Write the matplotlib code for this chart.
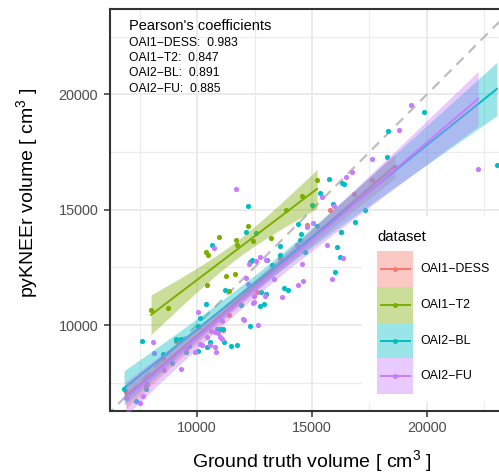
import numpy as np
import matplotlib
matplotlib.use("Agg")
import matplotlib.pyplot as plt
from matplotlib.patches import Rectangle
from matplotlib.lines import Line2D

plt.rcParams['font.family'] = ['Liberation Sans', 'DejaVu Sans']
plt.rcParams['mathtext.default'] = 'regular'

# ---------------------------------------------------------------- data
datasets = ["OAI1\u2212DESS", "OAI1\u2212T2", "OAI2\u2212BL", "OAI2\u2212FU"]
colors = ["#F8766D", "#7CAE00", "#00BFC4", "#C77CFF"]
pearson = [0.983, 0.847, 0.891, 0.885]

dess_x = [6910, 7780, 8520, 9090, 10040, 11130, 11390, 12610, 13000, 13610,
          14780, 15780, 16260, 16830, 17610, 18610]
dess_y = [7100, 7360, 8570, 9310, 9910, 9780, 10430, 11430, 11340, 12900,
          14340, 14990, 14030, 15680, 16290, 16850]

t2_x = [15220, 14570, 13870, 13220, 12430, 12220, 11700, 11740, 10960, 10390,
        10480, 11260, 11650, 10430, 11390, 8000, 8740]
t2_y = [16280, 15580, 14980, 13770, 13640, 14290, 13680, 13460, 13810, 13160,
        13030, 12120, 12210, 11730, 11470, 10650, 10740]

bl_x = [6830, 7350, 7780, 7610, 8520, 8910, 9090, 9300, 9520, 9650,
        10040, 10130, 10040, 10390, 10430, 10570, 10870, 11000, 11130, 11170,
        11480, 11740, 11220, 10650, 12220, 12130, 12570, 13610, 13610, 13260,
        12300, 12390, 13040, 11910, 12300, 12740, 12910, 12780, 13000, 13780,
        13960, 14700, 16220, 16000, 16090, 14390, 18300, 18260, 15740, 16300,
        16390, 15350, 15910, 17300, 16870, 16260, 15220, 14520, 19870, 23040,
        14480, 15000]
bl_y = [7230, 6710, 7230, 9310, 8740, 8350, 9390, 9390, 8830, 9090,
        8870, 10300, 9960, 10910, 9050, 9260, 9830, 9830, 9830, 9260,
        9090, 9130, 11520, 13470, 15160, 14030, 13990, 13430, 13040, 12600,
        12730, 12820, 12820, 10870, 9960, 10820, 10910, 11430, 11340, 11600,
        11520, 13170, 12950, 12300, 13380, 14380, 18410, 17280, 16330, 16160,
        16110, 15720, 15250, 14990, 14470, 14030, 14290, 13950, 19230, 16940,
        13690, 15200]

fu_x = [8090, 8130, 8570, 9300, 10040, 9910, 10130, 10430, 10610, 10780,
        10910, 11000, 11090, 10570, 10220, 9520, 10830, 10780, 7830, 7650,
        7520, 11090, 10740, 11700, 12040, 12650, 12480, 12480, 12960, 12130,
        12220, 12260, 12570, 13350, 13700, 14390, 14610, 14570, 14350, 15650,
        15870, 17610, 16480, 16740, 19300, 18780, 15960, 15040, 14780, 22220,
        16350, 15430, 12740, 13000, 12000, 12430, 6910]
fu_y = [9260, 8790, 8050, 8090, 10560, 8830, 9180, 9480, 9740, 9700,
        9650, 9480, 9390, 9130, 9130, 9000, 8830, 9050, 7440, 6920,
        6620, 10170, 13340, 15900, 10220, 10000, 11000, 11260, 11260, 12040,
        11780, 12640, 12770, 11990, 11210, 11730, 11910, 12640, 13470, 13470,
        11990, 17200, 16420, 16630, 19540, 18450, 15160, 14420, 14250, 16760,
        12900, 15550, 12950, 12820, 10260, 10950, 6840]

series = [(dess_x, dess_y), (t2_x, t2_y), (bl_x, bl_y), (fu_x, fu_y)]

x_ticks = [10000, 15000, 20000]
y_ticks = [10000, 15000, 20000]
minor_ticks = [7500, 12500, 17500, 22500]


def t975(df):
    """Upper 97.5% quantile of Student's t (Cornish-Fisher expansion)."""
    z = 1.959964
    g1 = (z**3 + z) / 4
    g2 = (5 * z**5 + 16 * z**3 + 3 * z) / 96
    g3 = (3 * z**7 + 19 * z**5 + 17 * z**3 - 15 * z) / 384
    return z + g1 / df + g2 / df**2 + g3 / df**3


def lm_band(x, y, n_grid=100):
    x = np.asarray(x, float)
    y = np.asarray(y, float)
    n = len(x)
    b, a = np.polyfit(x, y, 1)
    resid = y - (a + b * x)
    s = np.sqrt(np.sum(resid**2) / (n - 2))
    xbar = x.mean()
    sxx = np.sum((x - xbar) ** 2)
    xs = np.linspace(x.min(), x.max(), n_grid)
    yhat = a + b * xs
    se = s * np.sqrt(1 / n + (xs - xbar) ** 2 / sxx)
    t = t975(n - 2)
    return xs, yhat, yhat - t * se, yhat + t * se


# ---------------------------------------------------------------- figure
W, H = 499, 473
fig = plt.figure(figsize=(W / 100, H / 100), dpi=100)


def fx(px):
    return px / W


def fy(py):
    return 1 - py / H


p_left, p_right, p_top, p_bottom = 110, 499, 8.5, 411
ax = fig.add_axes([fx(p_left), fy(p_bottom), fx(p_right - p_left),
                   (p_bottom - p_top) / H])
ax.set_xlim(6217, 23131)
ax.set_ylim(6272, 23720)

ax.set_xticks(x_ticks)
ax.set_yticks(y_ticks)
ax.set_xticks(minor_ticks, minor=True)
ax.set_yticks(minor_ticks, minor=True)
ax.set_xticklabels([str(v) for v in x_ticks])
ax.set_yticklabels([str(v) for v in y_ticks])
ax.grid(which='major', color='#EBEBEB', lw=1.4, zorder=0)
ax.grid(which='minor', color='#EBEBEB', lw=0.8, zorder=0)
ax.set_axisbelow(True)
ax.tick_params(which='major', direction='out', length=4, width=1.1,
               color='#333333', labelcolor='#4D4D4D', labelsize=10.4)
ax.tick_params(axis='x', which='major', pad=3.5)
ax.tick_params(axis='y', which='major', pad=4.5)
ax.tick_params(which='minor', length=0)
for side in ('left', 'bottom', 'top'):
    ax.spines[side].set_color('#333333')
    ax.spines[side].set_linewidth(1.5)
ax.spines['right'].set_visible(False)

# identity line
lim = np.array([5000, 26000])
ax.plot(lim, lim, color='#BEBEBE', lw=1.6, ls=(0, (4.5, 3.2)), zorder=1)

# points
for (xs, ys), c in zip(series, colors):
    ax.scatter(xs, ys, s=14, color=c, linewidths=0, zorder=2)

# linear fits with 95% confidence bands
for (xs, ys), c in zip(series, colors):
    gx, gy, lo, hi = lm_band(xs, ys)
    ax.fill_between(gx, lo, hi, color=c, alpha=0.4, lw=0, zorder=3)
    ax.plot(gx, gy, color=c, lw=1.4, zorder=3)

# correlation summary
fig.text(fx(129), fy(26), "Pearson's coefficients", fontsize=10.5,
         ha='left', va='center', color='black')
for i, (name, r) in enumerate(zip(datasets, pearson)):
    fig.text(fx(129), fy(42.5 + i * 15.5), f"{name}:  {r:.3f}", fontsize=8.7,
             ha='left', va='center', color='black')

# axis titles
fig.text(fx(311.5), fy(467), "Ground truth volume [ cm$^3$ ]", fontsize=14,
         ha='center', va='baseline')
fig.text(fx(33), fy(192.5), "pyKNEEr volume [ cm$^3$ ]", fontsize=14,
         ha='center', va='baseline', rotation=90, rotation_mode='anchor')

# legend
fig.add_artist(Rectangle((fx(362), fy(402)), fx(W - 362 + 5), (402 - 216) / H,
                         transform=fig.transFigure, facecolor='white',
                         edgecolor='none', zorder=5))
fig.text(fx(377), fy(237), "dataset", fontsize=10.7, ha='left', va='center',
         zorder=6)
key_h = 35.8
for i, (name, c) in enumerate(zip(datasets, colors)):
    top = 251 + i * key_h
    fig.add_artist(Rectangle((fx(376.7), fy(top + key_h)), fx(36), key_h / H,
                             transform=fig.transFigure, facecolor=c, alpha=0.4,
                             edgecolor='none', zorder=6))
    cy = fy(top + key_h / 2)
    fig.add_artist(Line2D([fx(380.7), fx(410)], [cy, cy], color=c, lw=1.4,
                          transform=fig.transFigure, zorder=7))
    fig.add_artist(Line2D([fx(395.3)], [cy], color=c, marker='o', ms=3.6,
                          mew=0, transform=fig.transFigure, zorder=7))
    fig.text(fx(420), cy, name, fontsize=8.9, ha='left', va='center', zorder=7)

fig.savefig("out.png", dpi=100)
